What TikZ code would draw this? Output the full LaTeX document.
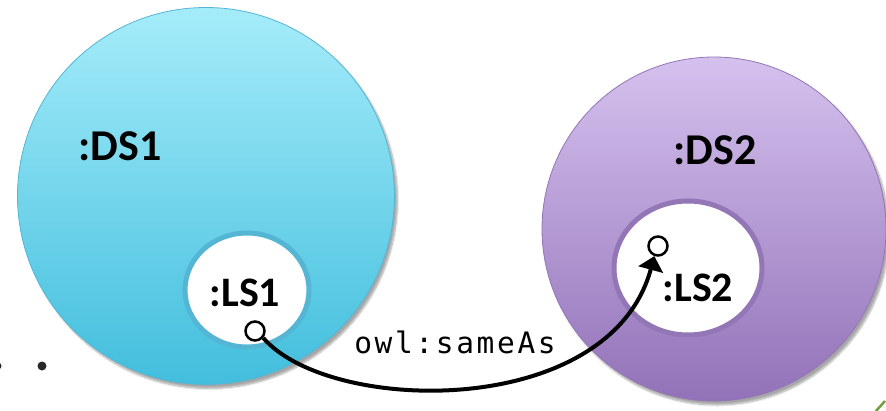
\documentclass[tikz,border=0pt]{standalone}
\usepackage{fontspec}
\setmainfont{Carlito}
\newfontfamily\codefont[LetterSpace=9]{DejaVu Sans Mono}
\usetikzlibrary{shapes.geometric,arrows.meta,shadows.blur}

\definecolor{cyantop}{RGB}{165,236,250}
\definecolor{cyanbot}{RGB}{66,190,221}
\definecolor{cyanring}{RGB}{84,182,212}
\definecolor{purptop}{RGB}{213,193,238}
\definecolor{purpbot}{RGB}{146,114,184}
\definecolor{purpring}{RGB}{147,118,182}
\definecolor{dotgray}{RGB}{40,40,40}
\definecolor{leafgreen}{RGB}{112,160,60}

\tikzset{
  dataset/.style={circle, inner sep=0pt, line width=0.8pt,
    blur shadow={shadow xshift=3pt, shadow yshift=-4pt, shadow blur steps=8, shadow opacity=35}},
  linkset/.style={ellipse, inner sep=0pt, fill=white, line width=5pt},
  dslabel/.style={font=\fontsize{44}{44}\selectfont\bfseries, inner sep=0pt},
  lslabel/.style={font=\fontsize{42}{42}\selectfont\bfseries, inner sep=0pt},
  anchorpt/.style={circle, draw=black, fill=white, line width=2.5pt, minimum size=19pt, inner sep=0pt},
  link/.style={line width=4pt, -{Triangle[length=14pt,width=25pt]}}
}

\begin{document}
\begin{tikzpicture}[x=1pt, y=-1pt]
  \useasboundingbox (0,0) rectangle (886,410);

  % the two datasets
  \node[dataset, minimum size=377pt, draw=cyanring, top color=cyantop, bottom color=cyanbot] (ds1) at (206,196) {};
  \node[dataset, minimum size=344pt, draw=purpring, top color=purptop, bottom color=purpbot] (ds2) at (714,229) {};

  % linksets inside them
  \node[linkset, draw=cyanring, minimum width=124pt, minimum height=114pt] (ls1) at (247,290) {};
  \node[linkset, draw=purpring, minimum width=148pt, minimum height=134pt] (ls2) at (688,268) {};

  % labels
  \node[dslabel] (ds1label) at (120,146) {:DS1};
  \node[dslabel] (ds2label) at (715,150) {:DS2};
  \node[lslabel] (ls1label) at (245,293) {:LS1};
  \node[lslabel] (ls2label) at (698,288) {:LS2};

  % resources linked by owl:sameAs
  \node[anchorpt] (p1) at (255,331) {};
  \node[anchorpt] (p2) at (658,246) {};
  \draw[link] (p1.-40) .. controls (330,415) and (610,420) .. (p2.250);
  \node[font=\codefont\fontsize{29.5}{29.5}\selectfont, inner sep=0pt] (rel) at (455,342) {owl:sameAs};

  % small marks along the lower edge
  \fill[dotgray] (42,366) circle (4.5pt);
  \coordinate (edgedot) at (-2,366);
  \fill[dotgray] (edgedot) circle (3.5pt);
  \coordinate (leafa) at (876,411);
  \coordinate (leafb) at (885,401);
  \draw[leafgreen, line width=2.5pt] (leafa) -- (leafb);
\end{tikzpicture}
\end{document}
